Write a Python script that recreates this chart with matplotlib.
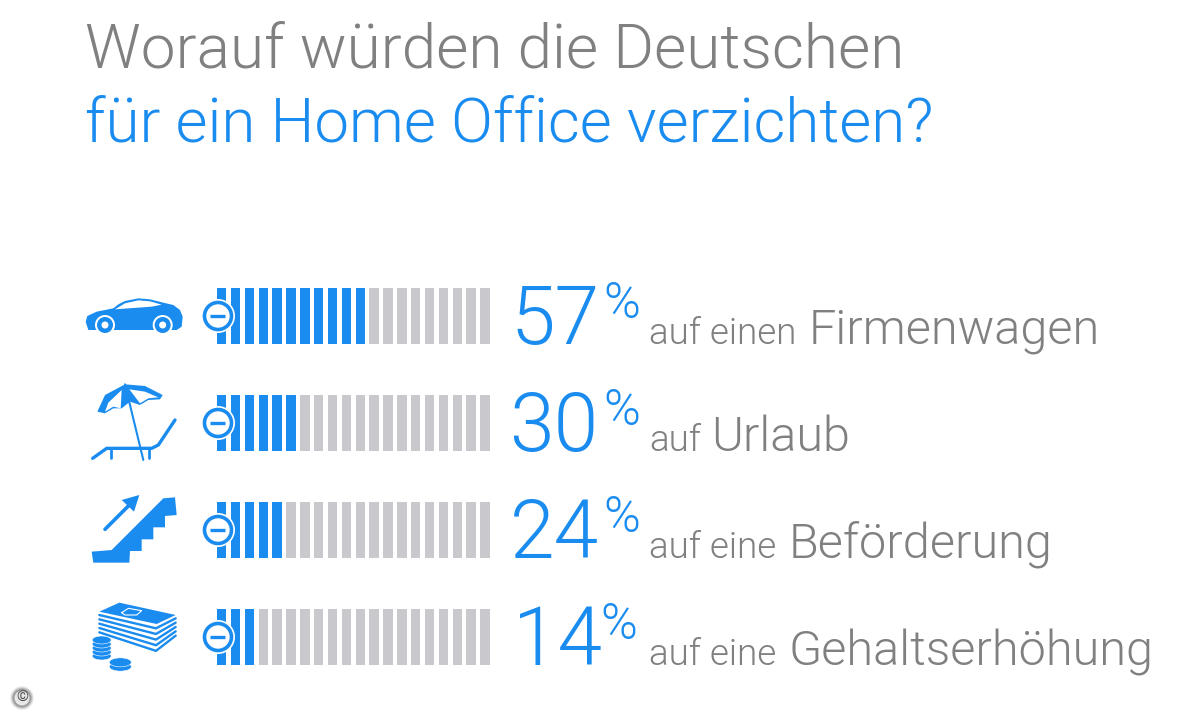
import matplotlib
matplotlib.use("Agg")
import matplotlib.pyplot as plt
from matplotlib.patches import Circle, Ellipse, Polygon

plt.rcParams["font.family"] = ["Roboto", "DejaVu Sans"]

title_line_1 = "Worauf würden die Deutschen"
title_line_2 = "für ein Home Office verzichten?"
percent_labels = ["57", "30", "24", "14"]
blue_bars = [11, 6, 5, 3]
total_bars = 20
prefix_labels = ["auf einen", "auf", "auf eine", "auf eine"]
main_labels = ["Firmenwagen", "Urlaub", "Beförderung", "Gehaltserhöhung"]
main_label_x = [809, 711, 789, 789]
number_x = [510, 509, 510, 513]
percent_x = [603, 603, 603, 600]

BLUE = "#1a8cf0"
GREY_BAR = "#c8c8cd"
GREY_TEXT = "#808080"
WEIGHT = 300

fig = plt.figure(figsize=(12, 7.2), dpi=100)
ax = fig.add_axes([0, 0, 1, 1])
ax.set_xlim(0, 1200)
ax.set_ylim(720, 0)
ax.axis("off")

ax.text(85, 67, title_line_1, fontsize=44.7, color=GREY_TEXT, fontweight=WEIGHT, va="baseline")
ax.text(85, 141, title_line_2, fontsize=44.6, color=BLUE, fontweight=WEIGHT, va="baseline")

row_top = [288, 395, 502, 609]
bar_h = 56
for r in range(4):
    xs = [217 + 13.86 * i for i in range(total_bars)]
    cols = [BLUE if i < blue_bars[r] else GREY_BAR for i in range(total_bars)]
    ax.bar(xs, bar_h, width=9.4, bottom=row_top[r], color=cols, align="edge", zorder=2)
    cy = row_top[r] + bar_h / 2
    ax.add_patch(Circle((218, cy), 17, fc="white", ec="none", zorder=3))
    ax.add_patch(Circle((218, cy), 13.5, fc="white", ec=BLUE, lw=2.6, zorder=4))
    ax.plot([210, 225], [cy, cy], color=BLUE, lw=2.4, zorder=5, solid_capstyle="butt")

    base = row_top[r] + 56
    ax.text(number_x[r], base, percent_labels[r], fontsize=58, color=BLUE, fontweight=WEIGHT, va="baseline")
    ax.text(percent_x[r], base - 26, "%", fontsize=36, color=BLUE, fontweight=WEIGHT, va="baseline")
    ax.text(649, base, prefix_labels[r], fontsize=26.5, color=GREY_TEXT, fontweight=WEIGHT, va="baseline")
    ax.text(main_label_x[r], base, main_labels[r], fontsize=35, color=GREY_TEXT, fontweight=WEIGHT, va="baseline")


# icons are traced in zoomed-crop pixels (3x), so convert back
def to_px(pts, x0, y0):
    return [(x0 + p[0] / 3, y0 + p[1] / 3) for p in pts]


def poly(pts, x0, y0, color=BLUE):
    ax.add_patch(Polygon(to_px(pts, x0, y0), closed=True, fc=color, ec="none", zorder=3))


def line(pts, x0, y0, lw, color=BLUE):
    p = to_px(pts, x0, y0)
    ax.plot([a[0] for a in p], [a[1] for a in p], color=color, lw=lw, zorder=3, solid_capstyle="round")


# car
x0, y0 = 80, 280
poly([(17, 125), (22, 108), (50, 95), (100, 85), (115, 73), (135, 63), (175, 55), (210, 58), (250, 68), (280, 75),
      (300, 90), (308, 110), (305, 140), (290, 150), (25, 150)], x0, y0)
poly([(105, 88), (135, 70), (175, 61), (210, 64), (245, 74), (215, 80)], x0, y0, "white")
for wx in [75, 248]:
    cx, cy = to_px([(wx, 135)], x0, y0)[0]
    ax.add_patch(Circle((cx, cy), 10, fc="white", ec="none", zorder=4))
    ax.add_patch(Circle((cx, cy), 8, fc=BLUE, ec="none", zorder=4))
    ax.add_patch(Circle((cx, cy), 3.5, fc="white", ec="none", zorder=4))

# beach chair
poly([(52, 395), (75, 345), (135, 313), (195, 318), (248, 345), (240, 358), (205, 360),
      (180, 375), (150, 365), (125, 385), (100, 385), (75, 400)], x0, y0)
poly([(75, 395), (85, 368), (125, 330), (122, 385), (100, 380)], x0, y0, "white")
poly([(148, 328), (195, 335), (235, 352), (205, 355), (180, 370)], x0, y0, "white")
line([(135, 313), (190, 540)], x0, y0, 1.5)
line([(38, 535), (80, 505), (215, 505), (235, 495), (285, 420)], x0, y0, 2.4)
line([(92, 505), (92, 535)], x0, y0, 2)
line([(207, 505), (207, 535)], x0, y0, 2)

# escalator
x0, y0 = 0, 480
poly([(275, 215), (335, 210), (490, 55), (525, 52), (530, 105), (495, 108), (495, 142), (460, 142),
      (460, 178), (425, 178), (425, 213), (390, 213), (388, 248), (280, 248)], x0, y0)
line([(315, 148), (385, 78)], x0, y0, 2.6)
poly([(365, 60), (418, 45), (402, 95)], x0, y0)

# money
poly([(298, 395), (358, 368), (527, 405), (470, 432)], x0, y0)
line([(365, 398), (385, 385), (425, 392), (410, 405), (375, 405), (365, 398)], x0, y0, 0.8, "white")
for k in range(5):
    off = 13 * k
    line([(298, 405 + off), (468, 445 + off * 1.3), (527, 415 + off)], x0, y0, 1.7)
for k in range(5):
    cx, cy = to_px([(305, 528 - 12 * k)], x0, y0)[0]
    ax.add_patch(Ellipse((cx, cy), 19, 8, fc=BLUE, ec="white", lw=0.4, zorder=3))
for k in range(2):
    cx, cy = to_px([(361, 560 - 13 * k)], x0, y0)[0]
    ax.add_patch(Ellipse((cx, cy), 22, 9, fc=BLUE, ec="white", lw=0.4, zorder=3))

# copyright badge
for rad, alpha in [(12, 0.1), (11, 0.2), (10, 0.3), (9, 0.4)]:
    ax.add_patch(Circle((22, 698), rad, fc="#707070", ec="none", alpha=alpha, zorder=3))
ax.add_patch(Circle((22, 698), 7.5, fc="#e8e8e8", ec="none", zorder=4))
ax.text(22, 698, "©", fontsize=11, color="#505050", ha="center", va="center", zorder=5)

fig.savefig("out.png", dpi=100, facecolor="white")
